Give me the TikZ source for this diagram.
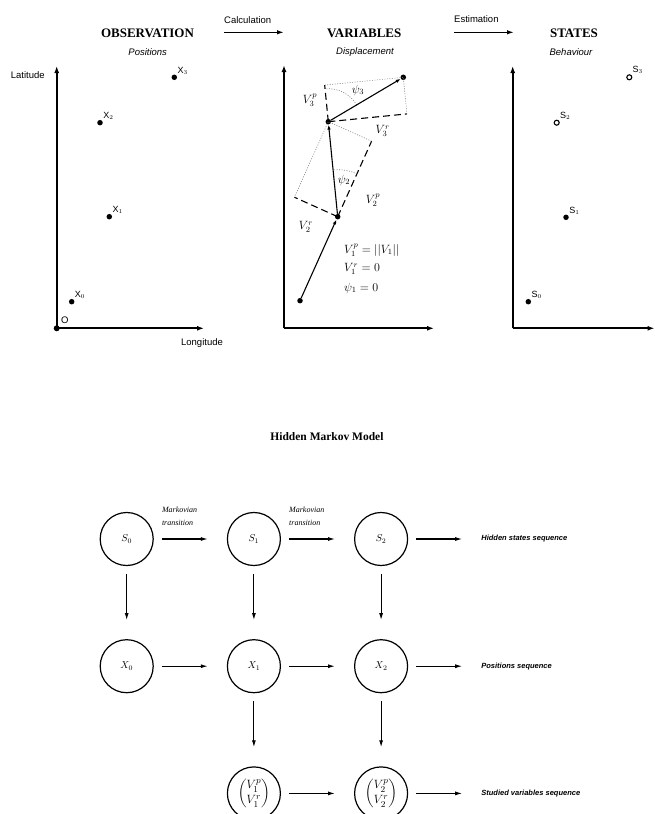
\documentclass[tikz,border=0pt]{standalone}
\usepackage{amsmath}
\usepackage{fontspec}
\setmainfont{Liberation Serif}
\setsansfont{Liberation Sans}
\usetikzlibrary{arrows.meta,positioning,calc,angles}

\begin{document}
\begin{tikzpicture}[x=1pt, y=-1pt,
    title/.style={font=\fontsize{13}{15}\selectfont\bfseries},
    subtitle/.style={font=\fontsize{9.5}{11}\selectfont\sffamily\itshape},
    axislab/.style={font=\fontsize{9.5}{11}\selectfont\sffamily},
    axis/.style={line width=1.8pt, -{Latex[length=7pt,width=5pt]}},
    dot/.style={circle, fill, inner sep=0pt, minimum size=5.5pt},
    odot/.style={circle, draw, line width=1.1pt, fill=white, inner sep=0pt, minimum size=5pt},
    ptlab/.style={font=\fontsize{9}{10}\selectfont\sffamily, inner sep=1pt},
    mathlab/.style={font=\fontsize{11.5}{14}\selectfont, inner sep=0pt},
    seg/.style={line width=1.1pt, -{Latex[length=5pt,width=3.5pt]}},
    proj/.style={line width=1.1pt, dash pattern=on 7pt off 4pt},
    guide/.style={gray, line width=0.6pt, dash pattern=on 1pt off 1.5pt},
    flow/.style={line width=1.1pt, -{Latex[length=7pt,width=4pt]}, shorten <=8pt, shorten >=19pt},
    state/.style={circle, draw, line width=1.2pt, minimum size=53pt, inner sep=0pt},
    vecstate/.style={state, font=\fontsize{13}{15}\selectfont},
    seqlab/.style={font=\fontsize{7.5}{9}\selectfont\sffamily\bfseries\itshape, inner sep=0pt},
    mtrans/.style={font=\fontsize{8}{13}\selectfont\itshape, align=left, inner sep=0pt},
    node distance=73pt,
]
  \useasboundingbox (0,0) rectangle (655,814);

  % --- top: three panels
  \node[title] (obs) at (147.5,33.3) {OBSERVATION};
  \node[subtitle] (obsub) at (147.7,52) {Positions};
  \node[title] (var) at (364.3,33.3) {VARIABLES};
  \node[subtitle] (varsub) at (365,52) {Displacement};
  \node[title] (sta) at (574,33.3) {STATES};
  \node[subtitle] (stasub) at (571,52) {Behaviour};

  \coordinate (c0) at (224,32.3);
  \coordinate (c1) at (284,32.3);
  \coordinate (e0) at (454,32.3);
  \coordinate (e1) at (514,32.3);
  \draw[seg, line width=1.5pt, -{Latex[length=7pt,width=4.5pt]}] (c0) -- (c1);
  \draw[seg, line width=1.5pt, -{Latex[length=7pt,width=4.5pt]}] (e0) -- (e1);
  \node[axislab, anchor=west, inner sep=0pt] (calc) at (224,20) {Calculation};
  \node[axislab, anchor=west, inner sep=0pt] (esti) at (454,19.5) {Estimation};

  % observation axes
  \coordinate (o1) at (56.7,328.3);
  \draw[axis] (o1) -- (56.7,66);
  \draw[axis] (o1) -- (204,328.3);
  \node[dot, minimum size=6pt] (orig) at (o1) {};
  \node[axislab, anchor=south west, inner sep=2pt] (olab) at (orig.north east) {O};
  \node[axislab] (lat) at (27.8,75) {Latitude};
  \node[axislab] (lon) at (202,343) {Longitude};

  \node[dot] (x0) at (71.7,301.7) {};
  \node[dot] (x1) at (109.3,216.7) {};
  \node[dot] (x2) at (100,122.7) {};
  \node[dot] (x3) at (174.3,77.3) {};
  \foreach \i in {0,...,3}
    \node[ptlab, anchor=south west] at (x\i.north east) {X$_{\i}$};

  % variables axes
  \coordinate (o2) at (284,328.3);
  \draw[axis] (o2) -- (284,65);
  \draw[axis] (o2) -- (434,328.3);

  \node[dot] (p0) at (300,300.7) {};
  \node[dot] (p1) at (337.7,216.7) {};
  \node[dot] (p2) at (328.3,121.7) {};
  \node[dot] (p3) at (403.3,77.3) {};

  \coordinate (a) at ($(p0)!(p2)!(p1)$);
  \coordinate (b) at ($(p1)+(p2)-(a)$);
  \coordinate (c) at ($(p1)!(p3)!(p2)$);
  \coordinate (d) at ($(p2)+(p3)-(c)$);

  \draw[proj] (p1.center) -- (a);
  \draw[proj] (p1.center) -- (b);
  \draw[guide] (a) -- (p2.center) -- (b);
  \draw[proj] (p2.center) -- (c);
  \draw[proj] (p2.center) -- (d);
  \draw[guide] (c) -- (p3.center) -- (d);
  \pic[draw, guide, angle radius=47pt] {angle = a--p1--p2};
  \pic[draw, guide, angle radius=33pt] {angle = p3--p2--c};

  \draw[seg] (p0) -- (p1);
  \draw[seg] (p1) -- (p2);
  \draw[seg] (p2) -- (p3);

  \node[mathlab] (v3p) at (310,100) {$V_3^p$};
  \node[mathlab] (psi3) at (358,90) {$\psi_3$};
  \node[mathlab] (v3r) at (382.7,131) {$V_3^r$};
  \node[mathlab] (psi2) at (344,180) {$\psi_2$};
  \node[mathlab] (v2p) at (373,200) {$V_2^p$};
  \node[mathlab] (v2r) at (306,227) {$V_2^r$};
  \node[mathlab, anchor=west] (eq1) at (344,250) {$V_1^p=||V_1||$};
  \node[mathlab, anchor=west] (eq2) at (344,269) {$V_1^r=0$};
  \node[mathlab, anchor=west] (eq3) at (344,288) {$\psi_1=0$};

  % states axes
  \coordinate (o3) at (512.7,328.3);
  \draw[axis] (o3) -- (512.7,66);
  \draw[axis] (o3) -- (654.5,328.3);

  \node[dot] (s0p) at (528.3,301.7) {};
  \node[dot] (s1p) at (566,217.3) {};
  \node[odot] (s2p) at (556.7,122.7) {};
  \node[odot] (s3p) at (629.3,77.3) {};
  \foreach \i in {0,...,3}
    \node[ptlab, anchor=south west] at (s\i p.north east) {S$_{\i}$};

  % --- bottom: hidden Markov model
  \node[title, font=\fontsize{11.5}{13}\selectfont\bfseries] (hmm) at (327,437) {Hidden Markov Model};

  \node[state] (s0) at (126.7,539) {$S_0$};
  \node[state, right=of s0] (s1) {$S_1$};
  \node[state, right=of s1] (s2) {$S_2$};
  \node[state, below=of s0] (x0n) {$X_0$};
  \node[state, below=of s1] (x1n) {$X_1$};
  \node[state, below=of s2] (x2n) {$X_2$};
  \node[vecstate, below=of x1n] (v1n) {$\begin{pmatrix}V_1^p\\V_1^r\end{pmatrix}$};
  \node[vecstate, below=of x2n] (v2n) {$\begin{pmatrix}V_2^p\\V_2^r\end{pmatrix}$};

  \node[seqlab, right=of s2] (hid) {Hidden states sequence};
  \node[seqlab, right=of x2n] (pos) {Positions sequence};
  \node[seqlab, right=of v2n] (stu) {Studied variables sequence};

  \node[mtrans, above right=13pt and 8pt of s0.east, anchor=south west] (m01) {Markovian\\transition};
  \node[mtrans, above right=13pt and 8pt of s1.east, anchor=south west] (m12) {Markovian\\transition};

  \draw[flow] (s0) -- (s1);
  \draw[flow] (s1) -- (s2);
  \draw[flow] (s2) -- (hid);
  \draw[flow] (x0n) -- (x1n);
  \draw[flow] (x1n) -- (x2n);
  \draw[flow] (x2n) -- (pos);
  \draw[flow] (v1n) -- (v2n);
  \draw[flow] (v2n) -- (stu);
  \draw[flow] (s0) -- (x0n);
  \draw[flow] (s1) -- (x1n);
  \draw[flow] (s2) -- (x2n);
  \draw[flow] (x1n) -- (v1n);
  \draw[flow] (x2n) -- (v2n);
\end{tikzpicture}
\end{document}
